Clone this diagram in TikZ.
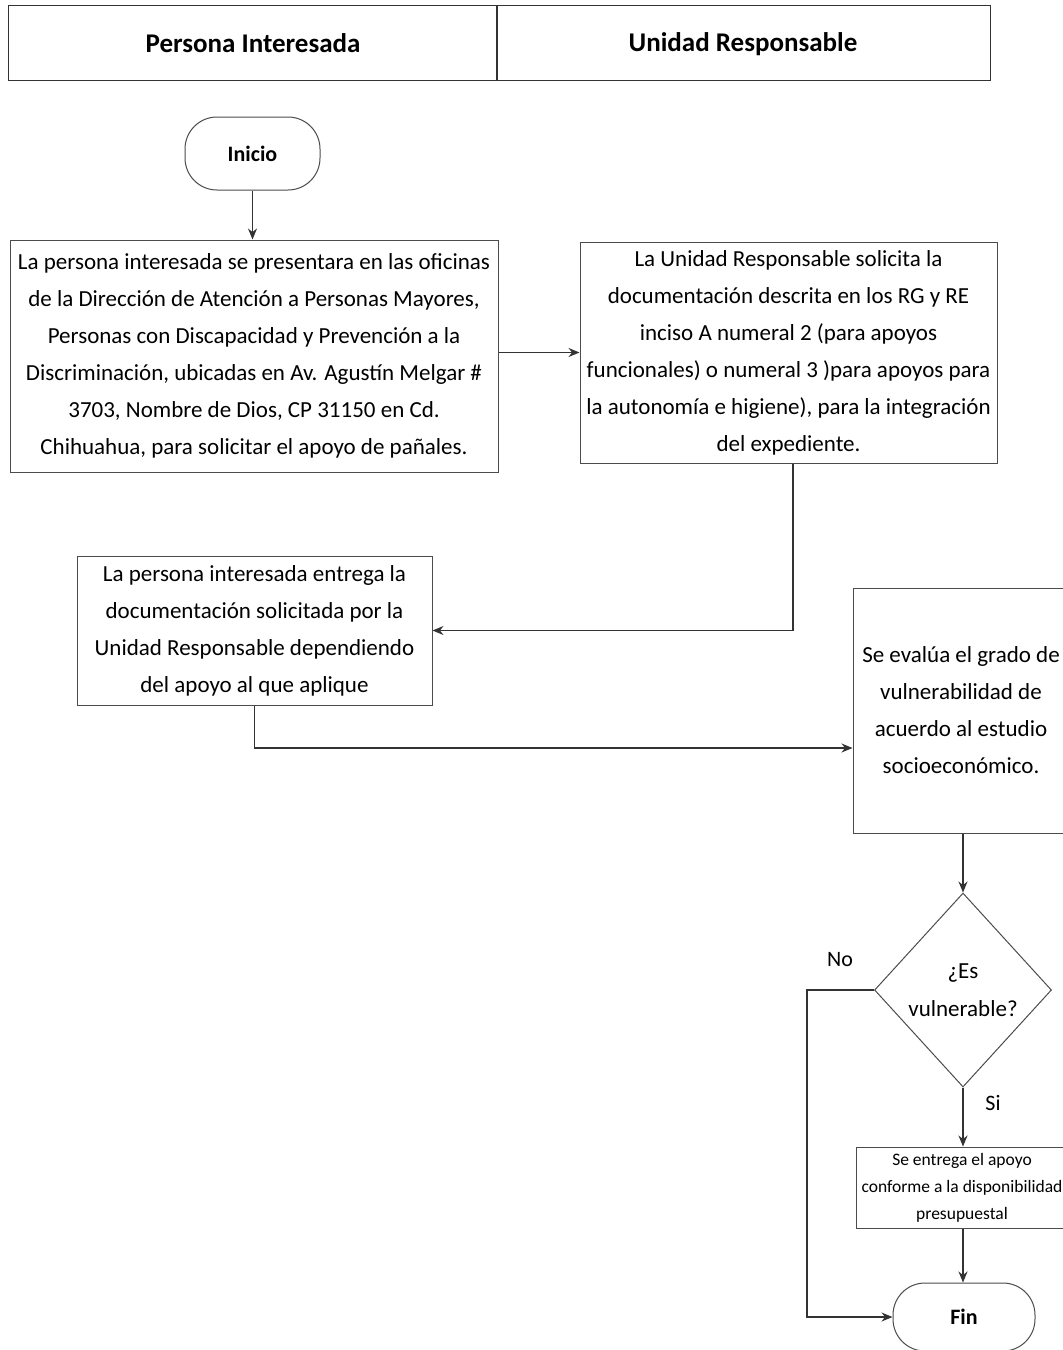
\documentclass[tikz,border=0pt]{standalone}
\usepackage{fontspec}
\setmainfont{Carlito}
\usetikzlibrary{shapes.geometric,arrows.meta}
\begin{document}
\begin{tikzpicture}[x=1pt,y=-1pt,
  line/.style={draw=black!80, line width=1.1pt},
  arr/.style={line, -{Stealth[length=11pt,width=9pt]}},
  box/.style={draw=black!70, line width=1pt, rectangle, inner sep=0pt, align=center,
              font=\fontsize{23}{37}\selectfont},
  term/.style={draw=black!70, line width=1pt, rectangle, rounded corners=32pt, inner sep=0pt,
               font=\fontsize{22}{26}\selectfont\bfseries},
  hdr/.style={font=\fontsize{27}{30}\selectfont\bfseries, anchor=base},
  lbl/.style={font=\fontsize{22}{26}\selectfont}]
\useasboundingbox (0,0) rectangle (1063,1350);
\fill[white] (0,0) rectangle (1063,1350);

% header
\node[draw=black!80, line width=1pt, minimum width=982, minimum height=75, inner sep=0pt] (hd) at (499,42.5) {};
\draw[line] (497,5) -- (497,80);
\node[hdr] (h1) at (253,52) {Persona Interesada};
\node[hdr] (h2) at (743,51) {Unidad Responsable};

% nodes
\node[term, minimum width=135, minimum height=73] (ini) at (252.5,153.5) {Inicio};
\node[box, minimum width=488, minimum height=232] (b1) at (254,356)
  {La persona interesada se presentara en las oficinas\\
   de la Dirección de Atención a Personas Mayores,\\
   Personas con Discapacidad y Prevención a la\\
   Discriminación, ubicadas en Av. Agustín Melgar \#\\
   3703, Nombre de Dios, CP 31150 en Cd.\\
   Chihuahua, para solicitar el apoyo de pañales.};
\node[box, minimum width=417, minimum height=221] (b2) at (788.5,352.5)
  {La Unidad Responsable solicita la\\
   documentación descrita en los RG y RE\\
   inciso A numeral 2 (para apoyos\\
   funcionales) o numeral 3 )para apoyos para\\
   la autonomía e higiene), para la integración\\
   del expediente.};
\node[box, minimum width=355, minimum height=149] (b3) at (254.5,630.5)
  {La persona interesada entrega la\\
   documentación solicitada por la\\
   Unidad Responsable dependiendo\\
   del apoyo al que aplique};
\node[box, minimum width=222, minimum height=245] (b4) at (964,710.5)
  {\hspace*{-6pt}Se evalúa el grado de\\
   \hspace*{-6pt}vulnerabilidad de\\
   \hspace*{-6pt}acuerdo al estudio\\
   \hspace*{-6pt}socioeconómico.};
\node[diamond, draw=black!70, line width=1pt, minimum width=177, minimum height=194,
      inner sep=0pt, aspect=0.91, align=center, font=\fontsize{23}{38}\selectfont] (d) at (963,990)
  {¿Es\\vulnerable?};
\node[box, minimum width=218, minimum height=81, font=\fontsize{17.5}{27}\selectfont] (b5) at (965,1187.5)
  {\hspace*{-6pt}Se entrega el apoyo\\
   \hspace*{-6pt}conforme a la disponibilidad\\
   \hspace*{-6pt}presupuestal};
\node[term, minimum width=142, minimum height=68] (fin) at (964,1317) {Fin};

\node[lbl] (no) at (840,960) {No};
\node[lbl] (si) at (993,1103) {Si};

\coordinate (j1) at (0,748);
% connectors
\draw[arr] (ini.south) -- (b1.north -| ini.south);
\draw[arr] (b2.west -| b1.east) -- (b2.west);
\draw[arr] ([xshift=4.5pt]b2.south) |- (b3.east);
\draw[arr] (b3.south) |- (b4.west |- j1);
\draw[arr] (b4.south -| d.north) -- (d.north);
\draw[arr] (d.west) -- ++(-67,0) |- (fin.west);
\draw[arr] (d.south) -- (b5.north -| d.south);
\draw[arr] (b5.south -| d.south) -- (fin.north -| d.south);
\end{tikzpicture}
\end{document}
